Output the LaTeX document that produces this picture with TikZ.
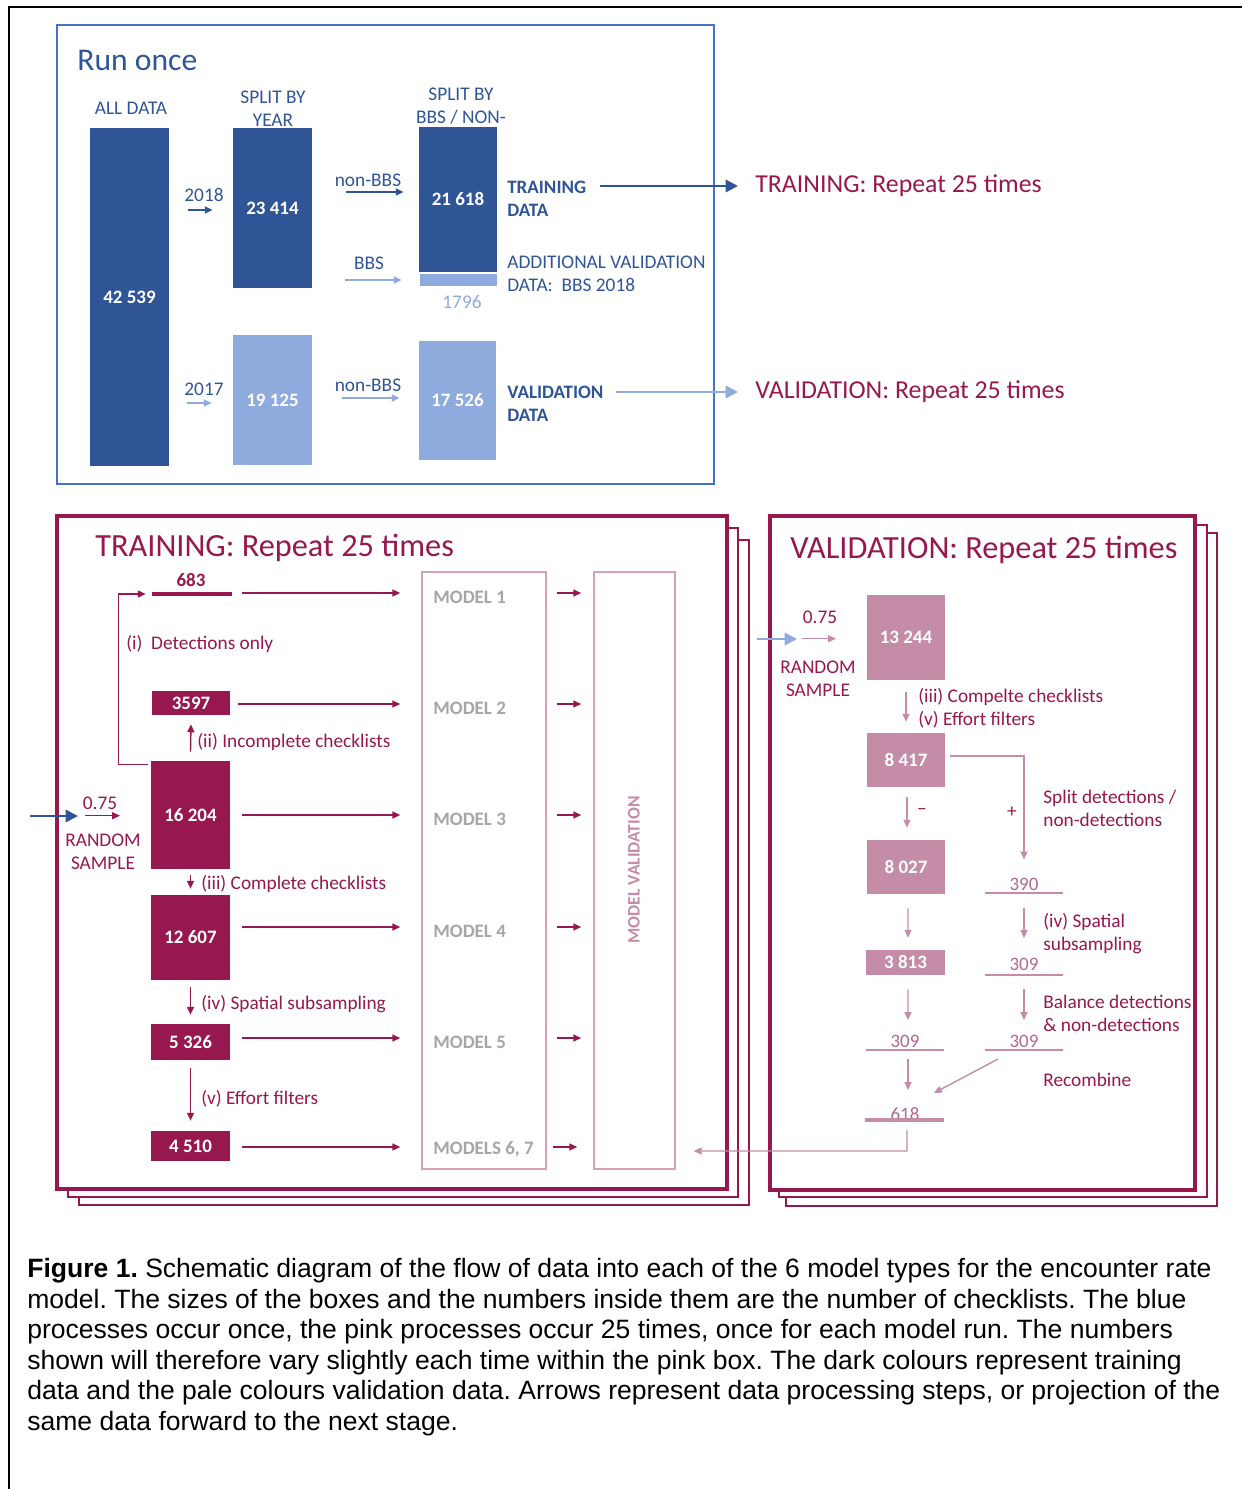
\documentclass[tikz,border=0pt]{standalone}
\usepackage{fontspec}
\setmainfont{Carlito}
\newfontfamily\capfont{Liberation Sans}
\usetikzlibrary{arrows.meta,calc}

\definecolor{bbsdark}{RGB}{47,85,151}
\definecolor{bbslight}{RGB}{143,170,220}
\definecolor{runframe}{RGB}{68,114,196}
\definecolor{trmaroon}{RGB}{150,24,78}
\definecolor{vapink}{RGB}{196,140,167}
\definecolor{vanum}{RGB}{178,104,142}
\definecolor{modgrey}{RGB}{166,166,166}
\definecolor{modframe}{RGB}{214,160,185}

\tikzset{
  lbl/.style={inner sep=0pt, font=\fontsize{11}{13}\selectfont},
  bar/.style={inner sep=0pt, text=white, font=\fontsize{10.8}{13}\selectfont\bfseries},
  ttl/.style={inner sep=0pt, anchor=west, font=\fontsize{18.4}{22}\selectfont},
  modl/.style={inner sep=0pt, anchor=west, text=modgrey, font=\fontsize{10.8}{13}\selectfont\bfseries},
  vnum/.style={inner sep=0pt, text=vanum, font=\fontsize{10.8}{13}\selectfont},
  tip/.style={-{Triangle[length=4.5pt,width=4pt]}},
  bigtip/.style={-{Triangle[length=7pt,width=7pt]}},
}

\begin{document}
\begin{tikzpicture}[x=0.02cm,y=-0.02cm]
  \useasboundingbox (0,0) rectangle (1242,1489);
  % page frame
  \draw[line width=1.2pt] (9,1489) -- (9,7) -- (1242,7);

  % ---- run once ----
  \draw[runframe, line width=1.1pt] (57,25) rectangle (714,484);
  \node[ttl, text=bbsdark, font=\fontsize{18}{22}\selectfont] (runonce) at (77,60) {Run once};
  \node[lbl, text=bbsdark] (hall) at (131,108) {ALL DATA};
  \node[lbl, text=bbsdark, align=center] (hyear) at (273,109) {SPLIT BY\\YEAR};
  \node[lbl, text=bbsdark, align=center] (hbbs) at (461,106.5) {SPLIT BY\\BBS / NON-};

  \node[bar, fill=bbsdark, minimum width=1.58cm, minimum height=6.76cm] (all) at (129.5,297) {42 539};
  \node[bar, fill=bbsdark, minimum width=1.58cm, minimum height=3.2cm] (y18) at (272.5,208) {23 414};
  \node[bar, fill=bbslight, minimum width=1.58cm, minimum height=2.6cm] (y17) at (272.5,400) {19 125};
  \node[bar, fill=bbsdark, minimum width=1.56cm, minimum height=2.9cm] (tr) at (458,199.5) {21 618};
  \node[bar, fill=bbslight, minimum width=1.54cm, minimum height=0.24cm] (bbs) at (458.5,280) {};
  \node[lbl, text=bbslight] (n1796) at (462,302) {1796};
  \node[bar, fill=bbslight, minimum width=1.54cm, minimum height=2.38cm] (va) at (457.5,400.5) {17 526};

  \node[lbl, text=bbsdark] (t2018) at (204,195) {2018};
  \node[lbl, text=bbsdark] (t2017) at (204,389) {2017};
  \node[lbl, text=bbsdark] (tnon1) at (368,180) {non-BBS};
  \node[lbl, text=bbsdark] (tbbs) at (369,263) {BBS};
  \node[lbl, text=bbsdark] (tnon2) at (368,385) {non-BBS};

  \node[lbl, text=bbsdark, anchor=west, align=left, font=\fontsize{10.8}{13}\selectfont\bfseries] (trlbl) at (507,198.5) {TRAINING\\DATA};
  \node[lbl, text=bbsdark, anchor=west, align=left] (addlbl) at (507,274) {ADDITIONAL VALIDATION\\DATA:\ \ BBS 2018};
  \node[lbl, text=bbsdark, anchor=west, align=left, font=\fontsize{10.8}{13}\selectfont\bfseries] (valbl) at (507,403.5) {VALIDATION\\DATA};

  \node[lbl, anchor=west, text=trmaroon, font=\fontsize{14.7}{18}\selectfont] (trrep) at (755,186) {TRAINING: Repeat 25 times};
  \node[lbl, anchor=west, text=trmaroon, font=\fontsize{14.7}{18}\selectfont] (varep) at (755,392) {VALIDATION: Repeat 25 times};

  % links
  \draw[tip, bbsdark, line width=1pt] ($(y18.west)+(-45,2)$) -- ($(y18.west)+(-20,2)$);
  \draw[tip, bbslight, line width=1pt] ($(y17.west)+(-46,3)$) -- ($(y17.west)+(-21,3)$);
  \draw[tip, bbsdark, line width=1pt] ($(y18.east)+(34,-16)$) -- ($(tr.west)+(-15,-7.5)$);
  \draw[tip, bbslight, line width=1pt] ($(bbs.west)+(-75,0)$) -- ($(bbs.west)+(-18,0)$);
  \draw[tip, bbslight, line width=1pt] ($(y17.east)+(30,-2)$) -- ($(va.west)+(-19,-2.5)$);
  \draw[bigtip, bbsdark, line width=1.3pt] ($(trrep.west)+(-155,0)$) -- ($(trrep.west)+(-17,0)$);
  \draw[bigtip, bbslight, line width=1.3pt] ($(varep.west)+(-139,0)$) -- ($(varep.west)+(-17,0)$);

  % ---- training panel ----
  \draw[trmaroon, line width=1.1pt, fill=white] (79,540) rectangle (749,1205);
  \draw[trmaroon, line width=1.1pt, fill=white] (68,528) rectangle (738,1197);
  \draw[trmaroon, line width=1.8pt, fill=white] (57,516) rectangle (727,1189);
  \node[ttl, text=trmaroon] (trttl) at (95,548) {TRAINING: Repeat 25 times};

  \coordinate (r1) at (0,593);
  \coordinate (r2) at (0,704);
  \coordinate (r3) at (0,815);
  \coordinate (r4) at (0,927);
  \coordinate (r5) at (0,1038);
  \coordinate (r6) at (0,1147);

  \node[bar, fill=trmaroon, minimum width=1.6cm, minimum height=0.08cm] (b683) at (192,594) {};
  \node[lbl, text=trmaroon, font=\fontsize{10.8}{13}\selectfont\bfseries] (n683) at (191,580.5) {683};
  \node[bar, fill=trmaroon, minimum width=1.56cm, minimum height=0.48cm] (b3597) at (191,703) {3597};
  \node[bar, fill=trmaroon, minimum width=1.58cm, minimum height=2.16cm] (b16204) at (190.5,815) {16 204};
  \node[bar, fill=trmaroon, minimum width=1.58cm, minimum height=1.7cm] (b12607) at (190.5,937.5) {12 607};
  \node[bar, fill=trmaroon, minimum width=1.58cm, minimum height=0.72cm] (b5326) at (190.5,1042) {5 326};
  \node[bar, fill=trmaroon, minimum width=1.58cm, minimum height=0.6cm] (b4510) at (190.5,1146) {4 510};

  \node[lbl, anchor=west, text=trmaroon] (ti) at (126,644) {(i)\ \ Detections only};
  \node[lbl, anchor=west, text=trmaroon] (tii) at (197,742) {(ii) Incomplete checklists};
  \node[lbl, anchor=west, text=trmaroon] (tiii) at (201,884) {(iii) Complete checklists};
  \node[lbl, anchor=west, text=trmaroon] (tiv) at (201,1004) {(iv) Spatial subsampling};
  \node[lbl, anchor=west, text=trmaroon] (tv) at (201,1099) {(v) Effort filters};

  \node[lbl, text=trmaroon] (trfrac) at (100,803) {0.75};
  \node[lbl, text=trmaroon, align=center] (trrand) at (103,852) {RANDOM\\SAMPLE};
  \coordinate (trin) at (30,816);
  \coordinate (trinend) at (78,816);

  \node[draw=modframe, line width=0.9pt, minimum width=2.48cm, minimum height=11.94cm] (models) at (484,870.5) {};
  \node[draw=modframe, line width=0.9pt, minimum width=1.62cm, minimum height=11.94cm] (valbox) at (634.5,870.5) {};
  \node[rotate=90, inner sep=0pt, text=vapink, font=\fontsize{10}{12}\selectfont\bfseries] (mvtxt) at (634,870) {MODEL VALIDATION};
  \node[modl] (m1) at (433,597) {MODEL 1};
  \node[modl] (m2) at (433,708) {MODEL 2};
  \node[modl] (m3) at (433,819) {MODEL 3};
  \node[modl] (m4) at (433,931) {MODEL 4};
  \node[modl] (m5) at (433,1042) {MODEL 5};
  \node[modl] (m67) at (433,1149) {MODELS 6, 7};

  % links
  \draw[bigtip, bbsdark, line width=1.3pt] (trin) -- (trinend);
  \draw[tip, trmaroon, line width=0.8pt] ($(trfrac.south)+(-15,6)$) -- ($(trfrac.south)+(20,6)$);
  \draw[tip, trmaroon, line width=0.8pt] ($(b16204.north west)+(-3,4)$) -- ++(-29,0) |- ($(b683.west)+(-6,0)$);
  \draw[tip, trmaroon, line width=0.8pt] ($(b16204.north)+(0,-9)$) -- ($(b3597.south)+(0,9)$);
  \draw[tip, trmaroon, line width=0.8pt] ($(b16204.south)+(0,6)$) -- ($(b12607.north)+(0,-6)$);
  \draw[tip, trmaroon, line width=0.8pt] ($(b12607.south)+(0,7)$) -- ($(b5326.north)+(0,-9)$);
  \draw[tip, trmaroon, line width=0.8pt] ($(b5326.south)+(0,8)$) -- ($(b4510.north)+(0,-10)$);

  \draw[tip, trmaroon, line width=0.8pt] ($(b683.east |- r1)+(10,0)$) -- ($(models.west |- r1)+(-21,0)$);
  \draw[tip, trmaroon, line width=0.8pt] ($(b3597.east |- r2)+(8,0)$) -- ($(models.west |- r2)+(-21,0)$);
  \draw[tip, trmaroon, line width=0.8pt] ($(b16204.east |- r3)+(12,0)$) -- ($(models.west |- r3)+(-21,0)$);
  \draw[tip, trmaroon, line width=0.8pt] ($(b12607.east |- r4)+(12,0)$) -- ($(models.west |- r4)+(-21,0)$);
  \draw[tip, trmaroon, line width=0.8pt] ($(b5326.east |- r5)+(12,0)$) -- ($(models.west |- r5)+(-21,0)$);
  \draw[tip, trmaroon, line width=0.8pt] ($(b4510.east |- r6)+(12,0)$) -- ($(models.west |- r6)+(-21,0)$);

  \draw[tip, trmaroon, line width=0.8pt] ($(models.east |- r1)+(10,0)$) -- ($(valbox.west |- r1)+(-12,0)$);
  \draw[tip, trmaroon, line width=0.8pt] ($(models.east |- r2)+(10,0)$) -- ($(valbox.west |- r2)+(-12,0)$);
  \draw[tip, trmaroon, line width=0.8pt] ($(models.east |- r3)+(10,0)$) -- ($(valbox.west |- r3)+(-12,0)$);
  \draw[tip, trmaroon, line width=0.8pt] ($(models.east |- r4)+(10,0)$) -- ($(valbox.west |- r4)+(-12,0)$);
  \draw[tip, trmaroon, line width=0.8pt] ($(models.east |- r5)+(10,0)$) -- ($(valbox.west |- r5)+(-12,0)$);
  \draw[tip, trmaroon, line width=0.8pt] ($(models.east |- r6)+(6,0)$) -- ($(valbox.west |- r6)+(-16,0)$);

  % ---- validation panel ----
  \draw[trmaroon, line width=1.1pt, fill=white] (786,533) rectangle (1217,1206);
  \draw[trmaroon, line width=1.1pt, fill=white] (779,525) rectangle (1207,1197);
  \draw[trmaroon, line width=1.8pt, fill=white] (770,516) rectangle (1195,1190);
  \node[ttl, text=trmaroon] (vattl) at (790,550) {VALIDATION: Repeat 25 times};

  \node[bar, fill=vapink, minimum width=1.56cm, minimum height=1.7cm] (v13244) at (906,637.5) {13 244};
  \node[bar, fill=vapink, minimum width=1.56cm, minimum height=1.08cm] (v8417) at (906,760) {8 417};
  \node[bar, fill=vapink, minimum width=1.56cm, minimum height=1.08cm] (v8027) at (906,867) {8 027};
  \node[bar, fill=vapink, minimum width=1.58cm, minimum height=0.5cm] (v3813) at (905.5,962.5) {3 813};

  \node[vnum] (n390) at (1024,884) {390};
  \node[vnum] (n309a) at (1024,964) {309};
  \node[vnum] (n309b) at (905,1041) {309};
  \node[vnum] (n309c) at (1024,1041) {309};
  \node[vnum] (n618) at (905,1114) {618};

  \node[lbl, text=trmaroon] (vafrac) at (820,617) {0.75};
  \node[lbl, text=trmaroon, align=center] (varand) at (818,679) {RANDOM\\SAMPLE};
  \node[lbl, anchor=west, align=left, text=trmaroon] (viii) at (918,708.5) {(iii) Compelte checklists\\(v) Effort filters};
  \node[lbl, anchor=west, align=left, text=trmaroon] (vsplit) at (1043,808.5) {Split detections /\\non-detections};
  \node[lbl, text=trmaroon] (vplus) at (1012,812) {+};
  \node[lbl, text=trmaroon] (vminus) at (922,811) {--};
  \node[lbl, anchor=west, align=left, text=trmaroon] (viv) at (1043,933.5) {(iv) Spatial\\subsampling};
  \node[lbl, anchor=west, align=left, text=trmaroon] (vbal) at (1043,1013.5) {Balance detections\\\& non-detections};
  \node[lbl, anchor=west, text=trmaroon] (vrec) at (1043,1080) {Recombine};
  \coordinate (vain) at (757,639);
  \coordinate (vainend) at (797,639);

  % links
  \draw[vapink, line width=1.2pt] ($(n390.center)+(-39,9)$) -- ++(78,0);
  \draw[vapink, line width=1.2pt] ($(n309a.center)+(-39,11)$) -- ++(78,0);
  \draw[vapink, line width=1.2pt] ($(n309b.center)+(-39,9)$) -- ++(78,0);
  \draw[vapink, line width=1.2pt] ($(n309c.center)+(-39,9)$) -- ++(78,0);
  \draw[vapink, line width=1.8pt] ($(n618.center)+(-40,6)$) -- ++(79,0);

  \draw[bigtip, bbslight, line width=1.3pt] (vain) -- (vainend);
  \draw[tip, vapink, line width=0.8pt] ($(vafrac.south)+(-18,15)$) -- ($(vafrac.south)+(16,15)$);
  \draw[tip, vapink, line width=0.8pt] ($(v13244.south)+(0,12)$) -- ($(v8417.north)+(0,-11)$);
  \draw[tip, vapink, line width=0.8pt] ($(v8417.east)+(5,-4)$) -| ($(n390.north)+(0,-18)$);
  \draw[tip, vapink, line width=0.8pt] ($(v8417.south)+(1,10)$) -- ($(v8027.north)+(1,-12)$);
  \draw[tip, vapink, line width=0.8pt] ($(v8027.south)+(2,14)$) -- ($(v3813.north)+(2.5,-12)$);
  \draw[tip, vapink, line width=0.8pt] ($(n390.center)+(0,24)$) -- ($(n309a.center)+(0,-26)$);
  \draw[tip, vapink, line width=0.8pt] ($(v3813.south)+(2.5,14)$) -- ($(n309b.center)+(3,-21)$);
  \draw[tip, vapink, line width=0.8pt] ($(n309a.center)+(0,25)$) -- ($(n309c.center)+(0,-21)$);
  \draw[tip, vapink, line width=0.8pt] ($(n309b.center)+(3,18)$) -- ($(n618.center)+(3,-24)$);
  \draw[tip, vapink, line width=0.8pt] ($(n309c.center)+(-26,18)$) -- ($(n618.center)+(29,-21)$);
  \draw[tip, vapink, line width=0.8pt] ($(n618.center)+(2,16)$) -- ++(0,21) -- ($(valbox.east)+(18,280.5)$);

  % caption
  \node[anchor=north west, inner sep=0pt, align=left, font=\capfont\fontsize{15.1}{17.4}\selectfont\frenchspacing] (caption) at (27,1258)
    {\textbf{Figure 1.} Schematic diagram of the flow of data into each of the 6 model types for the encounter rate\\
     model. The sizes of the boxes and the numbers inside them are the number of checklists. The blue\\
     processes occur once, the pink processes occur 25 times, once for each model run. The numbers\\
     shown will therefore vary slightly each time within the pink box. The dark colours represent training\\
     data and the pale colours validation data. Arrows represent data processing steps, or projection of the\\
     same data forward to the next stage.};
\end{tikzpicture}
\end{document}
